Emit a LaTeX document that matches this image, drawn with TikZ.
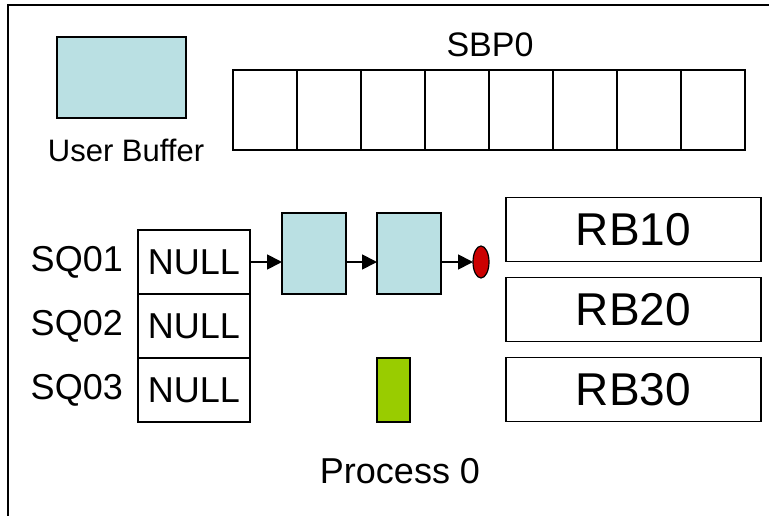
\documentclass[tikz,border=0pt]{standalone}
\usepackage{fontspec}
\setmainfont{Liberation Sans}
\usetikzlibrary{shapes.geometric, arrows.meta, positioning}
\definecolor{buffill}{HTML}{BAE0E3}
\definecolor{procfill}{HTML}{99CC00}
\definecolor{tailfill}{HTML}{CC0000}
\tikzset{
  box/.style={rectangle, draw=black, line width=1.8pt, inner sep=0pt, outer sep=0pt},
  ubuf/.style={box, fill=buffill, minimum width=129pt, minimum height=81pt},
  qbuf/.style={box, fill=buffill, minimum width=64pt, minimum height=81pt},
  slot/.style={box, minimum width=64pt, minimum height=80pt},
  nul/.style={box, minimum width=112pt, minimum height=64pt, font=\fontsize{36}{36}\selectfont},
  rbox/.style={box, minimum width=255pt, minimum height=64pt, font=\fontsize{46}{46}\selectfont},
  proc/.style={box, fill=procfill, minimum width=33pt, minimum height=64pt},
  tail/.style={ellipse, draw=black, line width=1.2pt, fill=tailfill, minimum width=16pt, minimum height=32pt, inner sep=0pt, outer sep=0pt},
  lab/.style={inner sep=0pt, font=\fontsize{36}{36}\selectfont},
  arr/.style={-{Triangle[length=15pt, width=15pt]}, line width=1.8pt},
}

\begin{document}
\begin{tikzpicture}[x=1pt, y=-1pt]
  \useasboundingbox (0,0) rectangle (769,516);
  \draw[line width=1.8pt] (8,5) rectangle (800,540);
  % user buffer and SBP0 slots
  \node[ubuf] (ubuf) at (121.5,77.5) {};
  \node[lab, font=\fontsize{31}{31}\selectfont] (ublab) at (126,150) {User Buffer};
  \node[lab, font=\fontsize{34}{34}\selectfont] (sbp) at (490,45) {SBP0};
  \foreach \i in {0,...,7}
    \node[slot] (s\i) at (265+64*\i,110) {};
  % send queues
  \node[nul] (nul1) at (194,262) {NULL};
  \node[nul, below=0pt of nul1] (nul2) {NULL};
  \node[nul, below=0pt of nul2] (nul3) {NULL};
  \node[lab, left=15pt of nul1] (sq1) {SQ01};
  \node[lab, left=15pt of nul2] (sq2) {SQ02};
  \node[lab, left=15pt of nul3] (sq3) {SQ03};
  \node[qbuf] (q1) at (314,253.5) {};
  \node[qbuf] (q2) at (409,253.5) {};
  \node[tail] (tail) at (481,262) {};
  \draw[arr] (nul1.east) -- (nul1.east -| q1.west);
  \draw[arr] (q1.east |- nul1) -- (q2.west |- nul1);
  \draw[arr] (q2.east |- nul1) -- (tail.west);
  % receive buffers
  \node[rbox] (rb1) at (633.5,229.5) {RB10};
  \node[rbox, below=16pt of rb1] (rb2) {RB20};
  \node[rbox, below=16pt of rb2] (rb3) {RB30};
  \node[proc] (proc) at (393.5,390) {};
  \node[lab] (plab) at (400,471) {Process 0};
\end{tikzpicture}
\end{document}
